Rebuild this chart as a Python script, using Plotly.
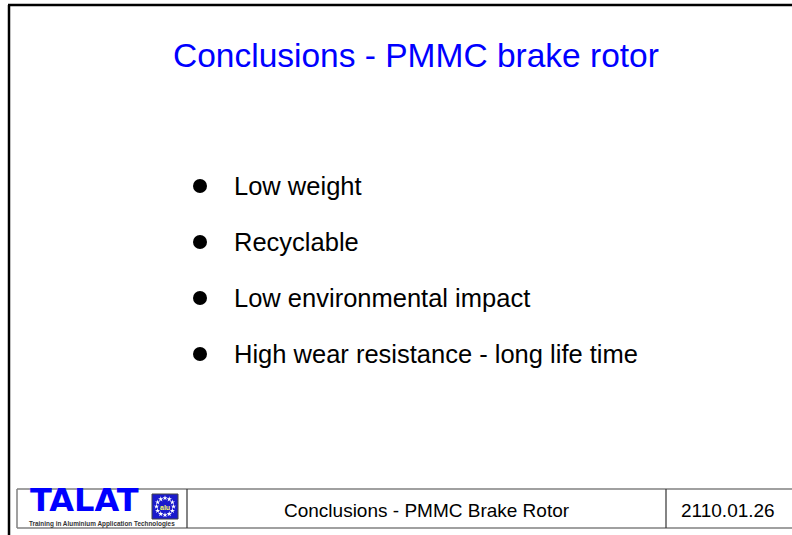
import math
import plotly.graph_objects as go

# ---- content ----
title_text = "Conclusions - PMMC brake rotor"
bullet_items = [
    "Low weight",
    "Recyclable",
    "Low environmental impact",
    "High wear resistance - long life time",
]
footer_title = "Conclusions - PMMC Brake Rotor"
footer_code = "2110.01.26"
logo_word = "TALAT"
logo_sub = "Training in Aluminium Application Technologies"

W, H = 792, 535
FONT = "Liberation Sans, Arial, Helvetica, sans-serif"

# ---- layout geometry (pixels) ----
bullet_x = 200
text_x = 232
bullet_y0 = 186
bullet_dy = 56
bullet_y = [bullet_y0 + i * bullet_dy for i in range(len(bullet_items))]

fig = go.Figure()

fig.add_trace(go.Scatter(
    x=[bullet_x] * len(bullet_items), y=bullet_y, mode="markers",
    marker=dict(symbol="circle", size=14, color="black"),
    hoverinfo="skip", showlegend=False,
))

annotations = []
for yy, t in zip(bullet_y, bullet_items):
    annotations.append(dict(x=text_x, y=yy, text=t, xanchor="left", yanchor="middle",
                            showarrow=False, font=dict(family=FONT, size=25.5, color="black")))

annotations.append(dict(x=416, y=55, text=title_text, xanchor="center", yanchor="middle",
                        showarrow=False, font=dict(family=FONT, size=33.5, color="#0000FF")))

# footer
fy0, fy1 = 489, 528
fx0, fx1, fx2 = 17, 187, 666
annotations.append(dict(x=(fx1 + fx2) / 2, y=510, text=footer_title, xanchor="center",
                        yanchor="middle", showarrow=False,
                        font=dict(family=FONT, size=19, color="black")))
annotations.append(dict(x=728, y=510, text=footer_code, xanchor="center",
                        yanchor="middle", showarrow=False,
                        font=dict(family=FONT, size=19, color="black")))
annotations.append(dict(x=29, y=520, text="<b>" + logo_word + "</b>", xanchor="left",
                        yanchor="bottom", showarrow=False, borderpad=0,
                        font=dict(family="DejaVu Sans, sans-serif", size=32, color="#0000FF")))
annotations.append(dict(x=102, y=524, text="<b>" + logo_sub + "</b>", xanchor="center",
                        yanchor="middle", showarrow=False, borderpad=0,
                        font=dict(family=FONT, size=6.4, color="#333333")))
# logo icon
ix0, ix1, iy0, iy1 = 152, 178, 494, 519
icx, icy = (ix0 + ix1) / 2, (iy0 + iy1) / 2
annotations.append(dict(x=icx, y=icy + 0.5, text="<b>alu</b>", xanchor="center", yanchor="middle",
                        showarrow=False, borderpad=0,
                        font=dict(family=FONT, size=7, color="#FFFF66")))

star_x = [icx + 8.5 * math.cos(2 * math.pi * k / 12) for k in range(12)]
star_y = [icy + 8.5 * math.sin(2 * math.pi * k / 12) for k in range(12)]
fig.add_trace(go.Scatter(x=star_x, y=star_y, mode="markers",
                         marker=dict(symbol="star", size=4, color="white"),
                         hoverinfo="skip", showlegend=False))

shapes = [
    # slide frame
    dict(type="line", x0=9, x1=9, y0=5, y1=H + 5, line=dict(color="black", width=2.5)),
    dict(type="line", x0=8, x1=W + 5, y0=5, y1=5, line=dict(color="black", width=2.5)),
    # footer box
    dict(type="line", x0=fx0, x1=W + 5, y0=fy0, y1=fy0, line=dict(color="#808080", width=1.5)),
    dict(type="line", x0=fx0, x1=W + 5, y0=fy1, y1=fy1, line=dict(color="#808080", width=1.5)),
    dict(type="line", x0=fx0, x1=fx0, y0=fy0, y1=fy1, line=dict(color="#808080", width=1.5)),
    dict(type="line", x0=fx1, x1=fx1, y0=fy0, y1=fy1, line=dict(color="#333333", width=1.2)),
    dict(type="line", x0=fx2, x1=fx2, y0=fy0, y1=fy1, line=dict(color="#333333", width=1.2)),
    # logo icon
    dict(type="rect", x0=ix0, x1=ix1, y0=iy0, y1=iy1, fillcolor="#1a1acc",
         line=dict(color="#444444", width=1), layer="below"),
]

fig.update_layout(
    width=W, height=H, margin=dict(l=0, r=0, t=0, b=0),
    paper_bgcolor="white", plot_bgcolor="white",
    xaxis=dict(range=[0, W], visible=False, fixedrange=True),
    yaxis=dict(range=[H, 0], visible=False, fixedrange=True),
    annotations=annotations, shapes=shapes, showlegend=False,
)

fig.write_html("out.html", config={"displayModeBar": False},
               post_script="document.body.style.margin='0';document.body.style.overflow='hidden';")
